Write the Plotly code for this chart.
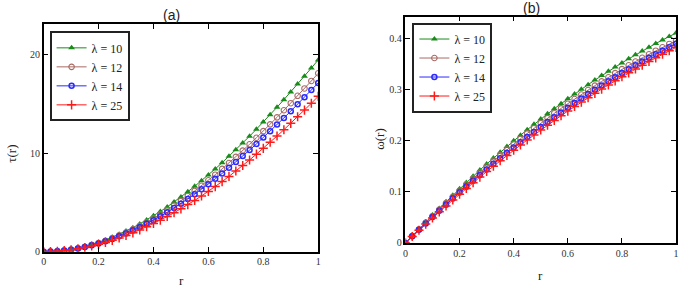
import plotly.graph_objects as go

r = [round(0.025 * k, 3) for k in range(41)]

labels = ["λ = 10", "λ = 12", "λ = 14", "λ = 25"]

tau_10 = [0, 0.02, 0.06, 0.14, 0.24, 0.38, 0.54, 0.74, 0.96, 1.20, 1.48, 1.78, 2.10, 2.45, 2.83, 3.23,
          3.65, 4.09, 4.56, 5.05, 5.56, 6.10, 6.65, 7.22, 7.81, 8.42, 9.05, 9.70, 10.36, 11.05, 11.74,
          12.46, 13.18, 13.93, 14.69, 15.46, 16.24, 17.04, 17.85, 18.67, 19.50]
tau_12 = [0, 0.02, 0.06, 0.13, 0.22, 0.35, 0.50, 0.69, 0.89, 1.12, 1.38, 1.66, 1.95, 2.28, 2.63, 3.00,
          3.39, 3.80, 4.24, 4.70, 5.17, 5.67, 6.18, 6.71, 7.26, 7.83, 8.42, 9.02, 9.64, 10.28, 10.92,
          11.59, 12.26, 12.95, 13.66, 14.38, 15.10, 15.85, 16.60, 17.36, 18.14]
tau_14 = [0, 0.02, 0.05, 0.12, 0.21, 0.33, 0.48, 0.65, 0.84, 1.06, 1.30, 1.57, 1.85, 2.16, 2.49, 2.84,
          3.21, 3.60, 4.01, 4.44, 4.89, 5.37, 5.85, 6.35, 6.87, 7.41, 7.96, 8.54, 9.12, 9.72, 10.33,
          10.96, 11.60, 12.26, 12.93, 13.60, 14.29, 15.00, 15.71, 16.43, 17.16]
tau_25 = [0, 0.02, 0.05, 0.11, 0.19, 0.30, 0.42, 0.58, 0.75, 0.94, 1.16, 1.40, 1.65, 1.92, 2.22, 2.54,
          2.87, 3.21, 3.58, 3.96, 4.36, 4.79, 5.22, 5.67, 6.13, 6.62, 7.13, 7.66, 8.20, 8.76, 9.33,
          9.92, 10.51, 11.13, 11.76, 12.40, 13.05, 13.72, 14.40, 15.09, 15.80]

omega_10 = [0, 0.0139, 0.0275, 0.0410, 0.0543, 0.0674, 0.0804, 0.0931, 0.1057, 0.1181, 0.1303, 0.1423,
            0.1541, 0.1657, 0.1772, 0.1884, 0.1995, 0.2104, 0.2211, 0.2317, 0.2420, 0.2522, 0.2621,
            0.2719, 0.2815, 0.2909, 0.3002, 0.3092, 0.3181, 0.3268, 0.3353, 0.3436, 0.3517, 0.3596,
            0.3674, 0.3749, 0.3823, 0.3895, 0.3965, 0.4034, 0.4100]
omega_12 = [0, 0.0134, 0.0267, 0.0398, 0.0526, 0.0653, 0.0779, 0.0902, 0.1024, 0.1143, 0.1261, 0.1377,
            0.1492, 0.1604, 0.1715, 0.1823, 0.1930, 0.2036, 0.2139, 0.2240, 0.2340, 0.2438, 0.2534,
            0.2628, 0.2720, 0.2811, 0.2900, 0.2987, 0.3072, 0.3155, 0.3236, 0.3316, 0.3394, 0.3470,
            0.3544, 0.3616, 0.3686, 0.3755, 0.3822, 0.3887, 0.3950]
omega_14 = [0, 0.0128, 0.0255, 0.0381, 0.0504, 0.0626, 0.0747, 0.0866, 0.0983, 0.1098, 0.1213, 0.1325,
            0.1436, 0.1545, 0.1653, 0.1759, 0.1863, 0.1966, 0.2067, 0.2167, 0.2265, 0.2361, 0.2456,
            0.2550, 0.2641, 0.2731, 0.2820, 0.2907, 0.2992, 0.3075, 0.3158, 0.3238, 0.3317, 0.3394,
            0.3470, 0.3544, 0.3616, 0.3687, 0.3756, 0.3824, 0.3890]
omega_25 = [0, 0.0124, 0.0247, 0.0368, 0.0488, 0.0607, 0.0723, 0.0839, 0.0953, 0.1065, 0.1176, 0.1286,
            0.1394, 0.1500, 0.1605, 0.1709, 0.1811, 0.1912, 0.2011, 0.2109, 0.2205, 0.2300, 0.2393,
            0.2485, 0.2575, 0.2664, 0.2751, 0.2837, 0.2922, 0.3005, 0.3086, 0.3166, 0.3245, 0.3322,
            0.3397, 0.3472, 0.3544, 0.3615, 0.3685, 0.3753, 0.3820]

x_ticks = [0, 0.2, 0.4, 0.6, 0.8, 1]
x_ticktext = ["0", "0.2", "0.4", "0.6", "0.8", "1"]
tau_ticks = [0, 10, 20]
omega_ticks = [0, 0.1, 0.2, 0.3, 0.4]
omega_ticktext = ["0", "0.1", "0.2", "0.3", "0.4"]

styles = [
    dict(color="#1a8a1a", symbol="triangle-up", size=6, lw=0),
    dict(color="#a86a64", symbol="circle-open", size=5.5, lw=1.1),
    dict(color="#2a2aff", symbol="circle-open", size=5, lw=1.5),
    dict(color="#ff1a1a", symbol="cross-thin-open", size=6.5, lw=1.5),
]

fig = go.Figure()
for series, xa, ya, leg in [([tau_10, tau_12, tau_14, tau_25], "x", "y", "legend"),
                            ([omega_10, omega_12, omega_14, omega_25], "x2", "y2", "legend2")]:
    for vals, lab, st in zip(series, labels, styles):
        fig.add_trace(go.Scatter(
            x=r, y=vals, mode="lines+markers", name=lab, xaxis=xa, yaxis=ya, legend=leg,
            line=dict(color=st["color"], width=1),
            marker=dict(symbol=st["symbol"], size=st["size"], color=st["color"],
                        line=dict(color=st["color"], width=st["lw"])),
        ))

tickfont = dict(family="Liberation Serif", size=10, color="#333333")
axis_common = dict(showline=True, linecolor="black", linewidth=1.5, mirror="ticks",
                   ticks="inside", ticklen=5, tickwidth=1.2, tickcolor="black",
                   showgrid=False, zeroline=False, tickfont=tickfont)

legend_common = dict(bgcolor="white", bordercolor="#222222", borderwidth=2,
                     font=dict(family="Liberation Serif", size=12, color="#222222"),
                     itemwidth=30, tracegroupgap=0, xanchor="left", yanchor="top")

def ann(text, x, y, size=13, family="Liberation Serif", angle=0):
    return dict(text=text, x=x/685, y=(293-y)/293, xref="paper", yref="paper", showarrow=False,
                xanchor="center", yanchor="middle", textangle=angle,
                font=dict(family=family, size=size, color="#222222"))

fig.update_layout(
    width=685, height=293, margin=dict(l=0, r=0, t=0, b=0),
    paper_bgcolor="white", plot_bgcolor="white", showlegend=True,
    xaxis=dict(domain=[41/685, 318/685], range=[0, 1], tickvals=x_ticks, ticktext=x_ticktext,
               anchor="y", **axis_common),
    yaxis=dict(domain=[(293-257)/293, (293-25)/293], range=[0, 23.1], tickvals=tau_ticks,
               anchor="x", **axis_common),
    xaxis2=dict(domain=[406/685, 679/685], range=[0, 1], tickvals=x_ticks, ticktext=x_ticktext,
                anchor="y2", **axis_common),
    yaxis2=dict(domain=[(293-248)/293, (293-17)/293], range=[0, 0.442], tickvals=omega_ticks,
                ticktext=omega_ticktext, anchor="x2", **axis_common),
    legend=dict(x=47/685, y=(293-32)/293, **legend_common),
    legend2=dict(x=413/685, y=(293-23)/293, **legend_common),
    annotations=[
        ann("(a)", 170, 15, 14, "Liberation Sans"),
        ann("(b)", 533, 8, 14, "Liberation Sans"),
        ann("r", 180, 286),
        ann("r", 542, 281),
        ann("τ(r)", 9, 157, angle=-90),
        ann("ω(r)", 379, 142, angle=-90),
    ],
)

fig.write_html("out.html", config={"displayModeBar": False},
               post_script="document.body.style.margin='0';")
